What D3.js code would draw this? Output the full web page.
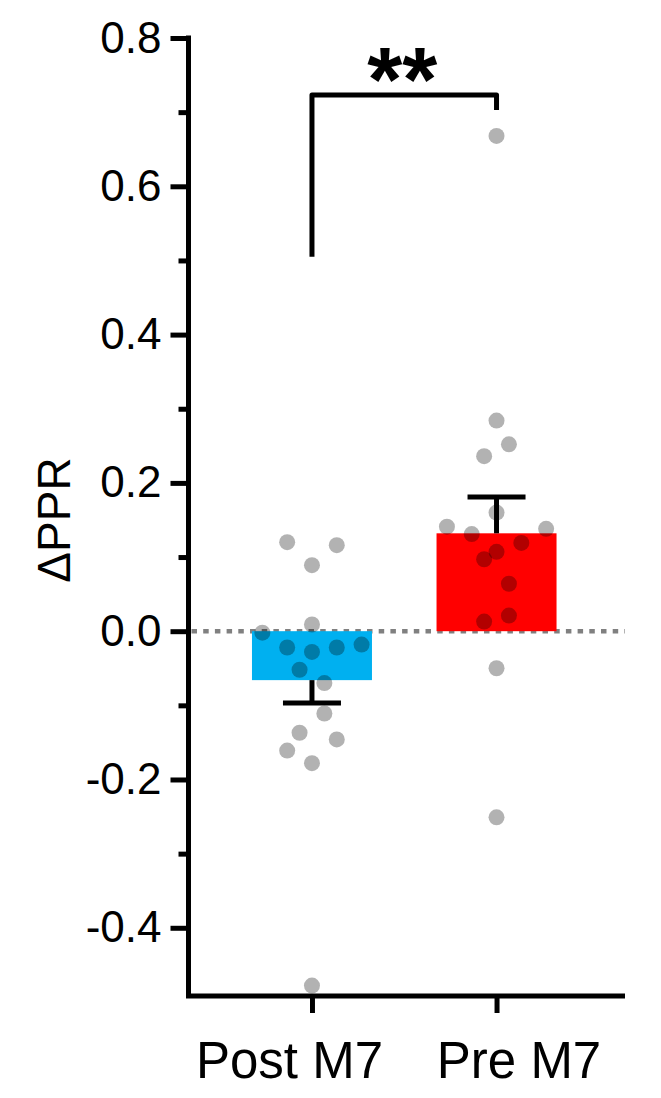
<!DOCTYPE html>
<html>
<head>
<meta charset="utf-8">
<script src="https://cdn.jsdelivr.net/npm/d3@7"></script>
<style>
  html, body { margin: 0; padding: 0; background: #fff; }
  svg { display: block; font-family: "Liberation Sans", Arial, sans-serif; }
</style>
</head>
<body>
<svg id="chart" width="661" height="1098"></svg>
<script>
// ---------------- DATA ----------------
const categories = ["Post M7", "Pre M7"];
const barColors = ["#00b0f0", "#ff0000"];
const means = [-0.066, 0.132];
const sems = [0.031, 0.049];

const postValues = [0.120, 0.116, 0.089, 0.009, -0.002, -0.022, -0.028, -0.022, -0.018, -0.052, -0.070, -0.111, -0.137, -0.146, -0.161, -0.178, -0.478];
const postLanes  = [-2, 2, 0, 0, -4, -2, 0, 2, 4, -1, 1, 1, -1, 2, -2, 0, 0];
const preValues  = [0.668, 0.284, 0.252, 0.236, 0.160, 0.141, 0.138, 0.131, 0.119, 0.107, 0.097, 0.064, 0.021, 0.013, -0.050, -0.251];
const preLanes   = [0, 0, 1, -1, 0, -4, 4, -2, 2, 0, -1, 1, 1, -1, 0, 0];

const yMajorTicks = [-0.4, -0.2, 0.0, 0.2, 0.4, 0.6, 0.8];
const yMinorTicks = [-0.3, -0.1, 0.1, 0.3, 0.5, 0.7];
const yDomain = [-0.492, 0.8];
const yLabel = "ΔPPR";

const sigLabel = "**";
const bracketTop = 0.723;
const bracketLeftBottom = 0.505;
const bracketRightBottom = 0.703;

// ---------------- LAYOUT ----------------
const svg = d3.select("#chart");
const axisX = 188.5;
const axisRight = 625;
const y = d3.scaleLinear().domain(yDomain).range([996, 38]);
const x = d3.scalePoint().domain(categories).range([axisX, 620]).padding(0.669);
const lane = d3.scaleLinear().domain([0, 1]).range([0, 12.4]);
const barWidth = 120;
const capWidth = 58;
const stroke = 5;
const labelShift = [-23, 22];
const fmt = d => d3.format(".1f")(d).replace("\u2212", "-");

// zero dotted line
svg.append("line")
  .attr("x1", axisX + 3).attr("x2", axisRight)
  .attr("y1", y(0)).attr("y2", y(0))
  .attr("stroke", "#808080").attr("stroke-width", 4.5)
  .attr("stroke-dasharray", "5.5,6.2");

// bars
svg.selectAll("rect.bar").data(categories).join("rect")
  .attr("class", "bar")
  .attr("x", d => x(d) - barWidth / 2)
  .attr("width", barWidth)
  .attr("y", (d, i) => Math.min(y(0), y(means[i])))
  .attr("height", (d, i) => Math.abs(y(0) - y(means[i])))
  .attr("fill", (d, i) => barColors[i]);

// error bars (one-sided)
categories.forEach((c, i) => {
  const tip = means[i] + Math.sign(means[i]) * sems[i];
  const g = svg.append("g").attr("stroke", "#000").attr("stroke-width", stroke);
  g.append("line").attr("x1", x(c)).attr("x2", x(c))
    .attr("y1", y(means[i])).attr("y2", y(tip));
  g.append("line").attr("x1", x(c) - capWidth / 2).attr("x2", x(c) + capWidth / 2)
    .attr("y1", y(tip)).attr("y2", y(tip));
});

// points
const pts = [];
postValues.forEach((v, i) => pts.push({ c: categories[0], v, l: postLanes[i] }));
preValues.forEach((v, i) => pts.push({ c: categories[1], v, l: preLanes[i] }));
svg.selectAll("circle.pt").data(pts).join("circle")
  .attr("class", "pt")
  .attr("cx", d => x(d.c) + lane(d.l))
  .attr("cy", d => y(d.v))
  .attr("r", 8)
  .attr("fill", "#000")
  .attr("fill-opacity", 0.3);

// y axis
const yAxis = svg.append("g").attr("transform", `translate(${axisX},0)`)
  .call(d3.axisLeft(y).tickValues(yMajorTicks).tickSize(18).tickPadding(9)
    .tickFormat(fmt));
yAxis.select(".domain").remove();
yAxis.selectAll(".tick line").attr("stroke", "#000").attr("stroke-width", stroke);
yAxis.selectAll(".tick text").attr("font-size", 44).attr("fill", "#000")
  .attr("font-family", "Liberation Sans, Arial, sans-serif");
const yMinor = svg.append("g").attr("transform", `translate(${axisX},0)`)
  .call(d3.axisLeft(y).tickValues(yMinorTicks).tickSize(10).tickFormat(""));
yMinor.select(".domain").remove();
yMinor.selectAll(".tick line").attr("stroke", "#000").attr("stroke-width", stroke);

// x axis
const xAxis = svg.append("g").attr("transform", `translate(0,${y(yDomain[0])})`)
  .call(d3.axisBottom(x).tickSize(17).tickPadding(29));
xAxis.select(".domain").remove();
xAxis.selectAll(".tick line").attr("stroke", "#000").attr("stroke-width", stroke);
xAxis.selectAll(".tick text").attr("font-size", 51).attr("fill", "#000")
  .attr("dx", (d, i) => labelShift[i])
  .attr("font-family", "Liberation Sans, Arial, sans-serif");

// axis lines (L shape)
svg.append("path")
  .attr("d", `M${axisX},${y(yDomain[1]) - 2.5}V${y(yDomain[0])}H${axisRight}`)
  .attr("fill", "none").attr("stroke", "#000").attr("stroke-width", stroke)
  .attr("stroke-linejoin", "miter");

// y label
svg.append("text")
  .attr("transform", `translate(70,${(y(yDomain[0]) + y(yDomain[1])) / 2 + 3}) rotate(-90)`)
  .attr("text-anchor", "middle")
  .attr("font-size", 46)
  .text(yLabel);

// significance bracket
svg.append("path")
  .attr("d", `M${x(categories[0])},${y(bracketLeftBottom)}V${y(bracketTop)}H${x(categories[1])}V${y(bracketRightBottom)}`)
  .attr("fill", "none").attr("stroke", "#000").attr("stroke-width", stroke)
  .attr("stroke-linejoin", "round");
svg.append("text")
  .attr("x", (x(categories[0]) + x(categories[1])) / 2 - 2)
  .attr("y", y(bracketTop) + 16)
  .attr("text-anchor", "middle")
  .attr("font-size", 90).attr("font-weight", "bold")
  .text(sigLabel);
</script>
</body>
</html>
